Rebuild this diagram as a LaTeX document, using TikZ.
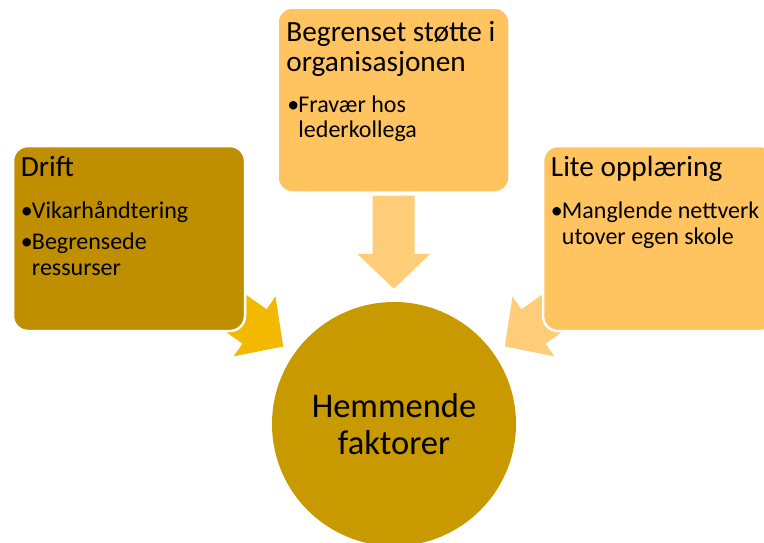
\documentclass[tikz,border=0pt]{standalone}
\usepackage{fontspec}
\setmainfont{Carlito}
\usetikzlibrary{positioning,arrows.meta,backgrounds}

\definecolor{driftgull}{HTML}{BF8F00}
\definecolor{lysgull}{HTML}{FFC45F}
\definecolor{sirkelgull}{HTML}{C99A00}
\definecolor{pilgull}{HTML}{F3B800}
\definecolor{pillys}{HTML}{FFCD77}

\newcommand{\punkt}[1]{\makebox[11pt][l]{\textbullet}\parbox[t]{200pt}{#1}}
\newcommand{\overskrift}[1]{\parbox[t]{225pt}{#1}}

\begin{document}
\begin{tikzpicture}[x=1pt,y=-1pt,
	boks/.style={rectangle,rounded corners=15pt,draw=white,line width=2.5pt,minimum width=232pt,minimum height=185pt,inner sep=0pt},
	tittel/.style={anchor=base west,inner sep=0pt,font=\fontsize{29.3}{30}\selectfont},
	kulepunkt/.style={anchor=base west,inner sep=0pt,font=\fontsize{24}{25.5}\selectfont},
	pil/.style={line width=42pt,-{Triangle[length=35pt,width=71pt]},shorten >=13pt}]
	\clip (0,0) rectangle (764,542);
	\useasboundingbox (0,0) rectangle (764,542);

	\node[boks,fill=driftgull] (drift) at (129,238.5) {};
	\node[boks,fill=lysgull] (stotte) at (393.5,100) {};
	\node[boks,fill=lysgull] (opplaering) at (659,238.5) {};
	\node[circle,fill=sirkelgull,minimum size=244pt,inner sep=0pt,align=center,font=\fontsize{34.5}{37}\selectfont] (hemmende) at (394,424) {Hemmende\\faktorer};

	% tekst i boksene
	\node[tittel] (drift-tittel) at ([xshift=9pt,yshift=-32pt]drift.north west) {\overskrift{Drift}};
	\node[kulepunkt] (drift-p1) at ([xshift=9pt,yshift=-74pt]drift.north west) {\punkt{Vikarhåndtering}};
	\node[kulepunkt] (drift-p2) at ([xshift=9pt,yshift=-105pt]drift.north west) {\punkt{Begrensede\\ressurser}};

	\node[tittel] (stotte-tittel) at ([xshift=10pt,yshift=-35pt]stotte.north west) {\overskrift{Begrenset støtte i\\organisasjonen}};
	\node[kulepunkt] (stotte-p1) at ([xshift=11pt,yshift=-106pt]stotte.north west) {\punkt{Fravær hos\\lederkollega}};

	\node[tittel] (opplaering-tittel) at ([xshift=9pt,yshift=-32pt]opplaering.north west) {\overskrift{Lite opplæring}};
	\node[kulepunkt] (opplaering-p1) at ([xshift=9pt,yshift=-74pt]opplaering.north west) {\punkt{Manglende nettverk\\utover egen skole}};

	% pilene bak boksene
	\begin{scope}[on background layer]
		\draw[pil,pilgull] (drift.center) -- (hemmende);
		\draw[pil,pillys,shorten <=2pt] (stotte) -- (hemmende);
		\draw[pil,pillys] (opplaering.center) -- (hemmende);
	\end{scope}
\end{tikzpicture}
\end{document}
